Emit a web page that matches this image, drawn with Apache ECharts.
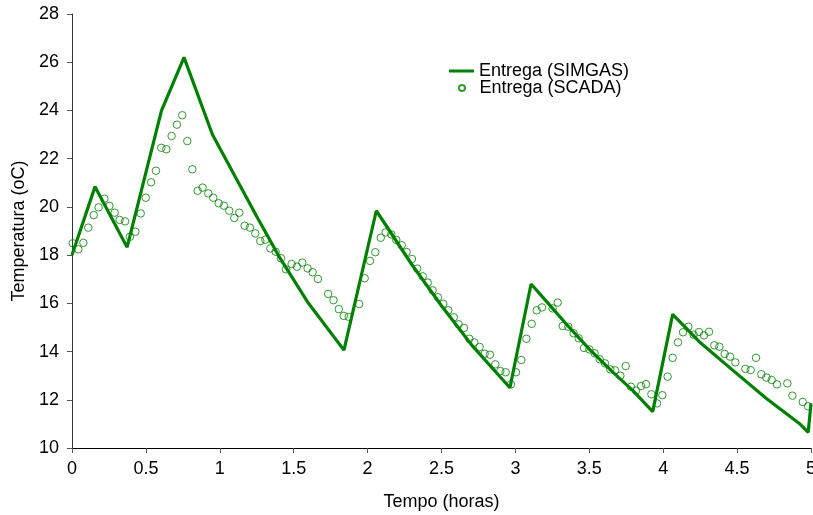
<!DOCTYPE html>
<html>
<head>
<meta charset="utf-8">
<script src="https://cdn.jsdelivr.net/npm/echarts@6/dist/echarts.min.js"></script>
<style>
html,body{margin:0;padding:0;background:#fff;}
#chart{width:813px;height:515px;}
</style>
</head>
<body>
<div id="chart"></div>
<script>
// SIMGAS simulated delivery temperature (line)
const simX = [0, 0.156, 0.373, 0.605, 0.758, 0.95, 1.1, 1.25, 1.4, 1.6, 1.84, 2.059, 2.3, 2.5, 2.7, 2.963, 3.106, 3.207, 3.35, 3.5, 3.65, 3.8, 3.929, 4.064, 4.244, 4.47, 4.696, 4.921, 4.981, 5.0];
const simY = [18.0, 20.84, 18.33, 23.98, 26.2, 23.0, 21.3, 19.6, 17.95, 16.0, 14.06, 19.84, 17.6, 15.9, 14.3, 12.5, 16.8, 16.1, 15.1, 14.1, 13.2, 12.35, 11.51, 15.54, 14.41, 13.23, 12.06, 11.02, 10.65, 11.85];

// SCADA measured delivery temperature (points)
const scadaX = [0.005,0.043,0.077,0.110,0.147,0.180,0.219,0.253,0.289,0.322,0.359,0.392,0.429,0.465,0.499,0.535,0.568,0.604,0.638,0.674,0.710,0.746,0.780,0.814,0.850,0.884,0.922,0.956,0.992,1.028,1.064,1.098,1.132,1.168,1.204,1.240,1.274,1.308,1.342,1.378,1.414,1.448,1.486,1.522,1.558,1.594,1.628,1.664,1.733,1.769,1.805,1.839,1.872,1.943,1.980,2.016,2.052,2.089,2.122,2.160,2.194,2.231,2.264,2.300,2.336,2.373,2.407,2.440,2.476,2.512,2.546,2.583,2.616,2.652,2.688,2.722,2.758,2.792,2.828,2.864,2.898,2.934,2.970,3.004,3.040,3.074,3.110,3.144,3.180,3.252,3.286,3.320,3.358,3.394,3.428,3.464,3.500,3.536,3.570,3.606,3.642,3.674,3.710,3.746,3.782,3.816,3.850,3.884,3.920,3.958,3.994,4.030,4.064,4.100,4.134,4.170,4.206,4.242,4.276,4.310,4.346,4.380,4.416,4.452,4.488,4.556,4.592,4.628,4.664,4.698,4.734,4.770,4.840,4.874,4.944,4.980];
const scadaY = [18.49,18.24,18.51,19.14,19.66,19.98,20.34,20.04,19.76,19.46,19.40,18.76,18.97,19.73,20.38,21.02,21.50,22.45,22.39,22.94,23.41,23.80,22.73,21.56,20.67,20.80,20.56,20.38,20.15,20.05,19.84,19.54,19.76,19.22,19.14,18.90,18.58,18.64,18.28,18.14,17.87,17.41,17.63,17.52,17.69,17.45,17.29,17.01,16.39,16.13,15.76,15.48,15.44,15.97,17.04,17.76,18.12,18.72,18.94,18.86,18.63,18.41,18.13,17.84,17.44,17.12,16.86,16.54,16.25,15.98,15.71,15.42,15.13,14.98,14.53,14.38,14.19,13.91,13.87,13.47,13.19,13.14,12.64,13.14,13.65,14.53,15.15,15.71,15.83,15.79,16.03,15.06,15.03,14.76,14.55,14.15,14.09,13.93,13.68,13.51,13.26,13.22,13.00,13.40,12.54,12.38,12.57,12.65,12.23,11.85,12.19,12.96,13.74,14.38,14.80,15.03,14.70,14.81,14.67,14.82,14.26,14.20,13.90,13.79,13.55,13.28,13.23,13.74,13.06,12.92,12.82,12.64,12.68,12.17,11.91,11.73];

const seriesNames = ['Entrega (SIMGAS)', 'Entrega (SCADA)'];
const xTitle = 'Tempo (horas)';
const yTitle = 'Temperatura (oC)';

const GREEN = '#008000';
const FONT = 'Liberation Sans, Arial, sans-serif';

const simData = simX.map((x, i) => [x, simY[i]]);
const scadaData = scadaX.map((x, i) => [x, scadaY[i]]);

const chart = echarts.init(document.getElementById('chart'), null, {renderer: 'canvas'});
chart.setOption({
  animation: false,
  backgroundColor: '#fff',
  textStyle: {fontFamily: FONT},
  grid: {left: 72, right: 2, top: 14, bottom: 67, containLabel: false, outerBoundsMode: 'none'},
  legend: [
    {
      data: [seriesNames[0]], left: 449, top: 62, icon: 'rect',
      itemWidth: 25, itemHeight: 3, itemGap: 0, padding: 0,
      textStyle: {fontSize: 18, color: '#000', fontFamily: FONT}
    },
    {
      data: [seriesNames[1]], left: 458, top: 79, icon: 'circle',
      itemWidth: 25, itemHeight: 6, itemGap: 0, padding: 0,
      textStyle: {fontSize: 18, color: '#000', fontFamily: FONT}
    }
  ],
  xAxis: {
    type: 'value', min: 0, max: 5, interval: 0.5,
    name: xTitle, nameLocation: 'middle', nameGap: 45,
    nameTextStyle: {fontSize: 18, color: '#000', fontFamily: FONT},
    axisLine: {show: true, onZero: false, lineStyle: {color: '#000', width: 1}},
    axisTick: {show: true, inside: false, length: 5, lineStyle: {color: '#555'}},
    axisLabel: {fontSize: 18, color: '#000', margin: 12, fontFamily: FONT},
    splitLine: {show: false}
  },
  yAxis: {
    type: 'value', min: 10, max: 28, interval: 2,
    name: yTitle, nameLocation: 'middle', nameGap: 42, nameRotate: 90,
    nameTextStyle: {fontSize: 18, color: '#000', fontFamily: FONT},
    axisLine: {show: true, onZero: false, lineStyle: {color: '#333', width: 1}},
    axisTick: {show: true, inside: false, length: 5, lineStyle: {color: '#555'}},
    axisLabel: {fontSize: 18, color: '#000', margin: 13, fontFamily: FONT},
    splitLine: {show: false}
  },
  series: [
    {
      name: seriesNames[0], type: 'line', data: simData,
      showSymbol: false, symbol: 'none', smooth: false,
      lineStyle: {color: GREEN, width: 3.2},
      itemStyle: {color: GREEN},
      z: 3
    },
    {
      name: seriesNames[1], type: 'scatter', data: scadaData,
      symbol: 'circle', symbolSize: 7.5,
      itemStyle: {color: 'rgba(255,255,255,0)', borderColor: GREEN, borderWidth: 1},
      z: 2
    }
  ]
});
</script>
</body>
</html>
